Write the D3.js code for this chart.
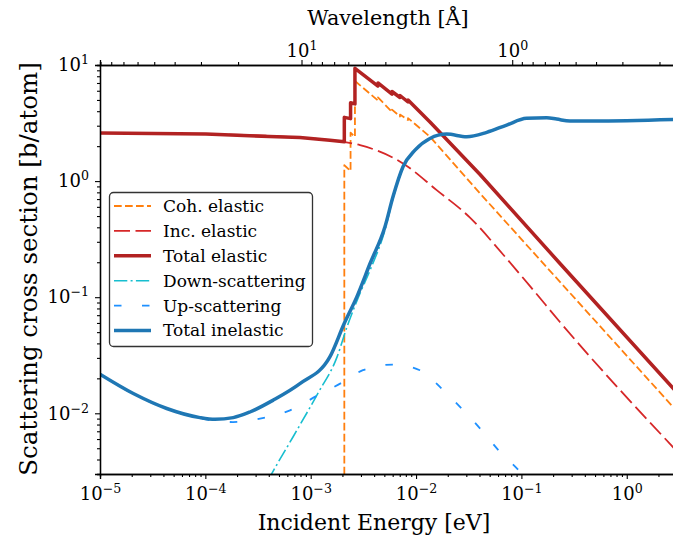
<!DOCTYPE html>
<html>
<head>
<meta charset="utf-8">
<script src="https://cdn.jsdelivr.net/npm/d3@7"></script>
<style>
  body { margin: 0; background: #fff; }
  svg text { font-family: "DejaVu Serif", "Liberation Serif", serif; fill: #000; }
</style>
</head>
<body>
<svg id="chart"></svg>
<script>
// ---- data (energy in eV, cross section in b/atom) ----
const cohElasticE  = [2.085e-3, 2.085e-3, 2.39e-3, 2.39e-3, 2.63e-3, 2.63e-3, 4.35e-3, 4.35e-3, 5.91e-3, 5.91e-3, 7.04e-3, 7.04e-3, 8.39e-3, 8.39e-3, 0.01356, 0.0405, 0.2323, 3];
const cohElasticXS = [1e-3, 1.37, 1.22, 2.61, 2.40, 7.28, 4.94, 5.25, 3.94, 4.13, 3.60, 3.74, 3.36, 3.49, 2.41, 0.783, 0.1355, 0.0104];

const incElasticE  = [1e-5, 1.01e-4, 7.9e-4, 1.52e-3, 2.04e-3, 2.94e-3, 7.52e-3, 0.0157, 0.0325, 0.0673, 0.130, 0.232, 3];
const incElasticXS = [2.59, 2.54, 2.37, 2.25, 2.18, 2.04, 1.42, 0.836, 0.485, 0.232, 0.1149, 0.0612, 0.0047];

const totElasticE  = [1e-5, 1.01e-4, 7.9e-4, 1.52e-3, 2.085e-3, 2.085e-3, 2.39e-3, 2.39e-3, 2.63e-3, 2.63e-3, 4.35e-3, 4.35e-3, 5.91e-3, 5.91e-3, 7.04e-3, 7.04e-3, 8.39e-3, 8.39e-3, 0.01356, 0.0405, 0.2323, 3];
const totElasticXS = [2.59, 2.54, 2.37, 2.25, 2.18, 3.54, 3.45, 4.73, 4.62, 9.37, 6.59, 7.00, 5.62, 5.91, 5.25, 5.46, 4.80, 4.99, 3.23, 1.14, 0.1952, 0.0151];

const downScatE  = [3.94e-4, 4.27e-4, 6.79e-4, 1.17e-3, 1.78e-3, 2.21e-3, 2.94e-3, 3.66e-3, 5.07e-3, 6.04e-3, 7.52e-3, 9.77e-3, 0.01355, 0.01954, 0.0303, 0.0469, 0.0725, 0.112, 0.174, 0.216, 0.289, 0.482, 3];
const downScatXS = [0.00264, 0.00302, 0.00625, 0.01486, 0.0306, 0.0555, 0.108, 0.171, 0.379, 0.707, 1.30, 1.83, 2.31, 2.52, 2.40, 2.62, 3.035, 3.47, 3.51, 3.42, 3.29, 3.29, 3.40];

const upScatE  = [1e-5, 2.07e-5, 4.30e-5, 8.89e-5, 1.107e-4, 1.83e-4, 3.30e-4, 6.37e-4, 1.17e-3, 2.03e-3, 3.13e-3, 6.04e-3, 0.01088, 0.0175, 0.0271, 0.0420, 0.0627, 0.0970, 0.108];
const upScatXS = [0.0217, 0.0147, 0.0109, 0.00906, 0.00871, 0.00841, 0.00900, 0.01061, 0.01429, 0.01862, 0.0235, 0.0263, 0.0235, 0.01633, 0.01099, 0.00713, 0.00464, 0.00312, 0.00275];

const totInelE  = [1e-5, 2.07e-5, 4.30e-5, 8.89e-5, 1.235e-4, 1.84e-4, 2.65e-4, 4.42e-4, 7.90e-4, 1.52e-3, 2.08e-3, 2.74e-3, 3.66e-3, 5.07e-3, 6.04e-3, 7.52e-3, 9.77e-3, 0.01355, 0.01954, 0.0303, 0.0469, 0.0725, 0.112, 0.174, 0.216, 0.289, 0.482, 3];
const totInelXS = [0.0217, 0.0148, 0.0110, 0.00918, 0.00888, 0.00918, 0.01026, 0.0130, 0.0180, 0.0306, 0.0593, 0.1006, 0.195, 0.404, 0.733, 1.33, 1.85, 2.33, 2.54, 2.41, 2.63, 3.04, 3.47, 3.51, 3.42, 3.29, 3.29, 3.40];

const energyTicks = [1e-5, 1e-4, 1e-3, 1e-2, 1e-1, 1];
const energyTickExp = ["−5", "−4", "−3", "−2", "−1", "0"];
const xsTicks = [1e-2, 1e-1, 1, 10];
const xsTickExp = ["−2", "−1", "0", "1"];
const wavelengthTicks = [10, 1];
const wavelengthTickExp = ["1", "0"];

const seriesNames = ["Coh. elastic", "Inc. elastic", "Total elastic", "Down-scattering", "Up-scattering", "Total inelastic"];

// ---- layout ----
const W = 673, H = 537;
const plotLeft = 100, plotTop = 65, plotBottom = 474;
const pxPerDecade = 105.35;
const xMin = 1e-5, xMax = 3;
const serif = '"DejaVu Serif", "Liberation Serif", serif';

const svg = d3.select("#chart").attr("width", W).attr("height", H);

const x = d3.scaleLog().domain([xMin, xMax]).range([plotLeft, plotLeft + pxPerDecade * Math.log10(xMax / xMin)]);
const y = d3.scaleLog().domain([3e-3, 10]).range([plotBottom, plotTop]);

// neutron wavelength [Å] from energy [eV]
const lambdaOf = (e) => 0.286 / Math.sqrt(e);
const xl = d3.scaleLog().domain([lambdaOf(xMin), lambdaOf(xMax)]).range(x.range());

const minorTicks = (lo, hi) => {
  const out = [];
  for (let p = Math.floor(Math.log10(lo)) - 1; p <= Math.ceil(Math.log10(hi)); p++) {
    for (let m = 2; m <= 9; m++) {
      const v = m * Math.pow(10, p);
      if (v >= lo && v <= hi) out.push(v);
    }
  }
  return out;
};

svg.append("defs").append("clipPath").attr("id", "plot-clip")
  .append("rect").attr("x", plotLeft).attr("y", plotTop).attr("width", 600).attr("height", plotBottom - plotTop);

// ---- curves ----
const zip = (a, b) => a.map((v, i) => [v, b[i]]);
const series = [
  { name: seriesNames[0], pts: zip(cohElasticE, cohElasticXS), color: "#ff7f0e", width: 1.8, dash: "7.7,3.3", curve: d3.curveLinear },
  { name: seriesNames[1], pts: zip(incElasticE, incElasticXS), color: "#d62728", width: 1.8, dash: "16,5.5", curve: d3.curveMonotoneX },
  { name: seriesNames[2], pts: zip(totElasticE, totElasticXS), color: "#b22222", width: 3.5, dash: null, curve: d3.curveLinear },
  { name: seriesNames[3], pts: zip(downScatE, downScatXS), color: "#17becf", width: 1.6, dash: "13.3,3.3,2,3.3", curve: d3.curveMonotoneX },
  { name: seriesNames[4], pts: zip(upScatE, upScatXS), color: "#1e90ff", width: 1.8, dash: "7.5,20.5", curve: d3.curveMonotoneX },
  { name: seriesNames[5], pts: zip(totInelE, totInelXS), color: "#1f77b4", width: 3.5, dash: null, curve: d3.curveMonotoneX },
];

const plot = svg.append("g").attr("clip-path", "url(#plot-clip)");
series.forEach((s) => {
  plot.append("path")
    .attr("d", d3.line().x((d) => x(d[0])).y((d) => y(d[1])).curve(s.curve)(s.pts))
    .attr("fill", "none")
    .attr("stroke", s.color)
    .attr("stroke-width", s.width)
    .attr("stroke-dasharray", s.dash)
    .attr("stroke-linejoin", "round");
});

// ---- axes ----
const tickFont = 18;
const supLabel = (sel, exps) => {
  sel.attr("font-family", serif);
  sel.selectAll(".tick text").each(function (d, i) {
    const t = d3.select(this).text(null).style("font-size", tickFont + "px").style("font-family", serif);
    t.append("tspan").text("10");
    t.append("tspan").attr("dy", -7).style("font-size", (tickFont * 0.7) + "px").text(exps[i]);
  });
};
const styleAxis = (g) => {
  g.select(".domain").attr("stroke", "#000").attr("stroke-width", 1.3);
  g.selectAll(".tick line").attr("stroke", "#000").attr("stroke-width", 1.1);
};

const xMinorG = svg.append("g").attr("transform", `translate(0,${plotBottom})`)
  .call(d3.axisBottom(x).tickValues(minorTicks(xMin, xMax)).tickSize(3).tickFormat(""));
styleAxis(xMinorG);
const xAxisG = svg.append("g").attr("transform", `translate(0,${plotBottom})`)
  .call(d3.axisBottom(x).tickValues(energyTicks).tickSize(5).tickPadding(5));
styleAxis(xAxisG);
supLabel(xAxisG, energyTickExp);
xAxisG.selectAll(".tick text").attr("dy", "0.9em");

const yMinorG = svg.append("g").attr("transform", `translate(${plotLeft},0)`)
  .call(d3.axisLeft(y).tickValues(minorTicks(3e-3, 10)).tickSize(3).tickFormat(""));
styleAxis(yMinorG);
const yAxisG = svg.append("g").attr("transform", `translate(${plotLeft},0)`)
  .call(d3.axisLeft(y).tickValues(xsTicks).tickSize(5).tickPadding(6));
styleAxis(yAxisG);
supLabel(yAxisG, xsTickExp);

const topMinorG = svg.append("g").attr("transform", `translate(0,${plotTop})`)
  .call(d3.axisTop(xl).tickValues(minorTicks(lambdaOf(xMax), lambdaOf(xMin))).tickSize(3).tickFormat(""));
styleAxis(topMinorG);
const topAxisG = svg.append("g").attr("transform", `translate(0,${plotTop})`)
  .call(d3.axisTop(xl).tickValues(wavelengthTicks).tickSize(5).tickPadding(3));
styleAxis(topAxisG);
supLabel(topAxisG, wavelengthTickExp);

// axis titles
svg.append("text").attr("x", 374).attr("y", 530).attr("text-anchor", "middle")
  .style("font-family", serif).style("font-size", "22px").text("Incident Energy [eV]");
svg.append("text").attr("transform", "translate(37,269) rotate(-90)").attr("text-anchor", "middle")
  .style("font-family", serif).style("font-size", "24.5px").text("Scattering cross section [b/atom]");
svg.append("text").attr("x", 388).attr("y", 25).attr("text-anchor", "middle")
  .style("font-family", serif).style("font-size", "20.8px").text("Wavelength [Å]");

// ---- legend ----
const legend = svg.append("g");
legend.append("rect").attr("x", 109.5).attr("y", 192.5).attr("width", 203).attr("height", 154).attr("rx", 4)
  .attr("fill", "#fff").attr("stroke", "#333").attr("stroke-width", 1.3);
series.forEach((s, i) => {
  const ry = 206 + i * 24.9;
  legend.append("line").attr("x1", 114).attr("x2", 151).attr("y1", ry).attr("y2", ry)
    .attr("stroke", s.color).attr("stroke-width", s.width).attr("stroke-dasharray", s.dash);
  legend.append("text").attr("x", 163).attr("y", ry).attr("dy", "0.35em")
    .style("font-family", serif).style("font-size", "17px").text(s.name);
});
</script>
</body>
</html>
